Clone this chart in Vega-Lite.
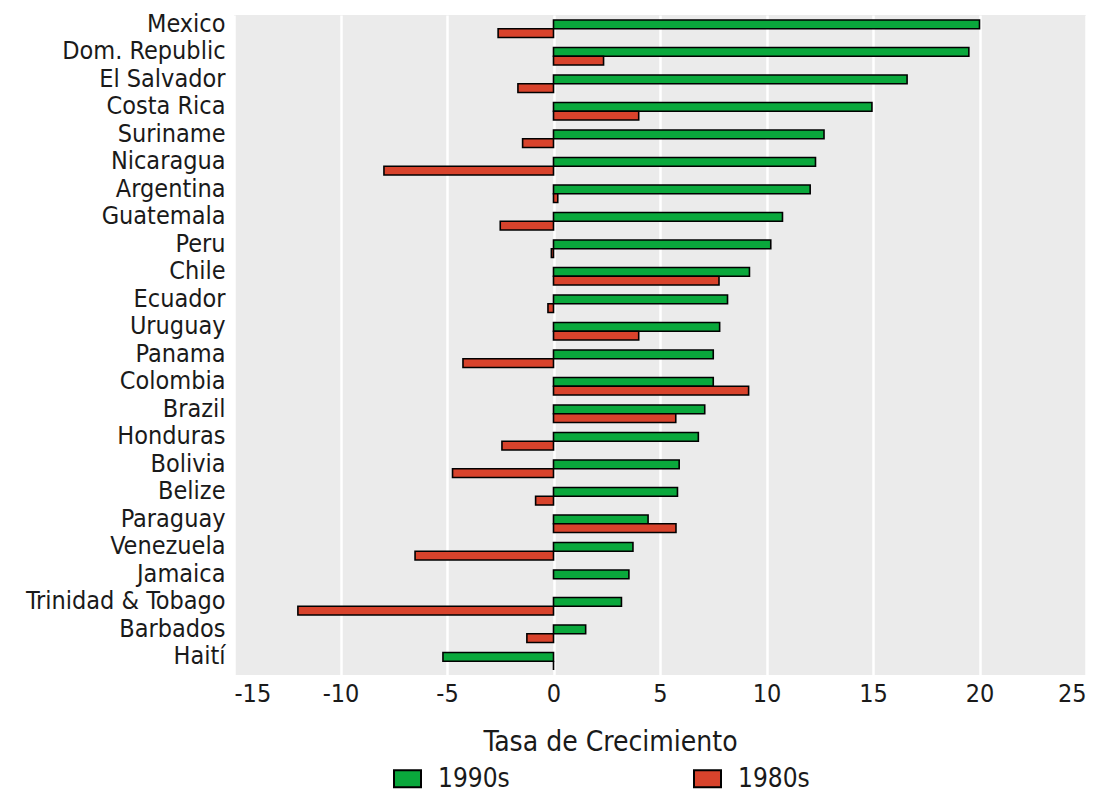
{
  "$schema": "https://vega.github.io/schema/vega-lite/v6.json",
  "width": 852,
  "height": 660,
  "autosize": {"type": "none"},
  "padding": {"left": 234, "top": 15, "right": 14, "bottom": 119},
  "background": "white",
  "config": {
    "view": {"fill": "#ebebeb", "stroke": null},
    "font": "DejaVu Sans Condensed"
  },
  "data": {
    "values": [
      {"country": "Mexico", "period": "1990s", "value": 20.0},
      {"country": "Mexico", "period": "1980s", "value": -2.6},
      {"country": "Dom. Republic", "period": "1990s", "value": 19.5},
      {"country": "Dom. Republic", "period": "1980s", "value": 2.35},
      {"country": "El Salvador", "period": "1990s", "value": 16.6},
      {"country": "El Salvador", "period": "1980s", "value": -1.67},
      {"country": "Costa Rica", "period": "1990s", "value": 14.95},
      {"country": "Costa Rica", "period": "1980s", "value": 4.0},
      {"country": "Suriname", "period": "1990s", "value": 12.7},
      {"country": "Suriname", "period": "1980s", "value": -1.45},
      {"country": "Nicaragua", "period": "1990s", "value": 12.3},
      {"country": "Nicaragua", "period": "1980s", "value": -7.96},
      {"country": "Argentina", "period": "1990s", "value": 12.05},
      {"country": "Argentina", "period": "1980s", "value": 0.2},
      {"country": "Guatemala", "period": "1990s", "value": 10.75},
      {"country": "Guatemala", "period": "1980s", "value": -2.5},
      {"country": "Peru", "period": "1990s", "value": 10.2},
      {"country": "Peru", "period": "1980s", "value": -0.1},
      {"country": "Chile", "period": "1990s", "value": 9.2},
      {"country": "Chile", "period": "1980s", "value": 7.77},
      {"country": "Ecuador", "period": "1990s", "value": 8.17},
      {"country": "Ecuador", "period": "1980s", "value": -0.26},
      {"country": "Uruguay", "period": "1990s", "value": 7.8},
      {"country": "Uruguay", "period": "1980s", "value": 4.0},
      {"country": "Panama", "period": "1990s", "value": 7.5},
      {"country": "Panama", "period": "1980s", "value": -4.25},
      {"country": "Colombia", "period": "1990s", "value": 7.5},
      {"country": "Colombia", "period": "1980s", "value": 9.16},
      {"country": "Brazil", "period": "1990s", "value": 7.1},
      {"country": "Brazil", "period": "1980s", "value": 5.74},
      {"country": "Honduras", "period": "1990s", "value": 6.8},
      {"country": "Honduras", "period": "1980s", "value": -2.42},
      {"country": "Bolivia", "period": "1990s", "value": 5.9},
      {"country": "Bolivia", "period": "1980s", "value": -4.74},
      {"country": "Belize", "period": "1990s", "value": 5.82},
      {"country": "Belize", "period": "1980s", "value": -0.84},
      {"country": "Paraguay", "period": "1990s", "value": 4.44},
      {"country": "Paraguay", "period": "1980s", "value": 5.75},
      {"country": "Venezuela", "period": "1990s", "value": 3.73},
      {"country": "Venezuela", "period": "1980s", "value": -6.5},
      {"country": "Jamaica", "period": "1990s", "value": 3.54},
      {"country": "Jamaica", "period": "1980s", "value": null},
      {"country": "Trinidad & Tobago", "period": "1990s", "value": 3.19},
      {"country": "Trinidad & Tobago", "period": "1980s", "value": -12.0},
      {"country": "Barbados", "period": "1990s", "value": 1.51},
      {"country": "Barbados", "period": "1980s", "value": -1.25},
      {"country": "Haití", "period": "1990s", "value": -5.19},
      {"country": "Haití", "period": "1980s", "value": 0}
    ]
  },
  "mark": {"type": "bar", "stroke": "black", "strokeWidth": 1.6},
  "encoding": {
    "y": {
      "field": "country",
      "type": "nominal",
      "sort": null,
      "scale": {"paddingInner": 0.36, "paddingOuter": 0.18},
      "axis": {
        "title": null,
        "ticks": false,
        "domain": false,
        "grid": false,
        "labelFont": "DejaVu Sans Condensed",
        "labelFontSize": 25,
        "labelColor": "#1a1a1a",
        "labelPadding": 9,
        "labelOffset": -5,
        "labelLimit": 400
      }
    },
    "yOffset": {
      "field": "period",
      "type": "nominal",
      "sort": ["1990s", "1980s"],
      "scale": {"paddingInner": 0, "paddingOuter": 0}
    },
    "x": {
      "field": "value",
      "type": "quantitative",
      "scale": {"domain": [-15, 25], "nice": false, "zero": false},
      "axis": {
        "title": "Tasa de Crecimiento",
        "values": [-15, -10, -5, 0, 5, 10, 15, 20, 25],
        "labelExpr": "toString(datum.value)",
        "ticks": false,
        "domain": false,
        "grid": true,
        "gridColor": "white",
        "gridWidth": 2.5,
        "labelFont": "DejaVu Sans Condensed",
        "labelFontSize": 25,
        "labelColor": "#1a1a1a",
        "labelPadding": 6,
        "titleFont": "DejaVu Sans Condensed",
        "titleFontSize": 28,
        "titleFontWeight": "normal",
        "titleColor": "#1a1a1a",
        "titleX": 376,
        "titleY": 67,
        "titleBaseline": "middle"
      }
    },
    "color": {
      "field": "period",
      "type": "nominal",
      "sort": ["1990s", "1980s"],
      "scale": {"domain": ["1990s", "1980s"], "range": ["#0aa83c", "#d8432c"]},
      "legend": {
        "title": null,
        "orient": "none",
        "direction": "horizontal",
        "columns": 2,
        "legendX": 159,
        "legendY": 749,
        "columnPadding": 180,
        "symbolType": "M-1,-0.63H1V0.63H-1Z",
        "symbolSize": 729,
        "symbolStrokeColor": "black",
        "symbolStrokeWidth": 2,
        "symbolOpacity": 1,
        "labelFont": "DejaVu Sans Condensed",
        "labelFontSize": 26,
        "labelColor": "#1a1a1a",
        "labelOffset": 16
      }
    }
  }
}
